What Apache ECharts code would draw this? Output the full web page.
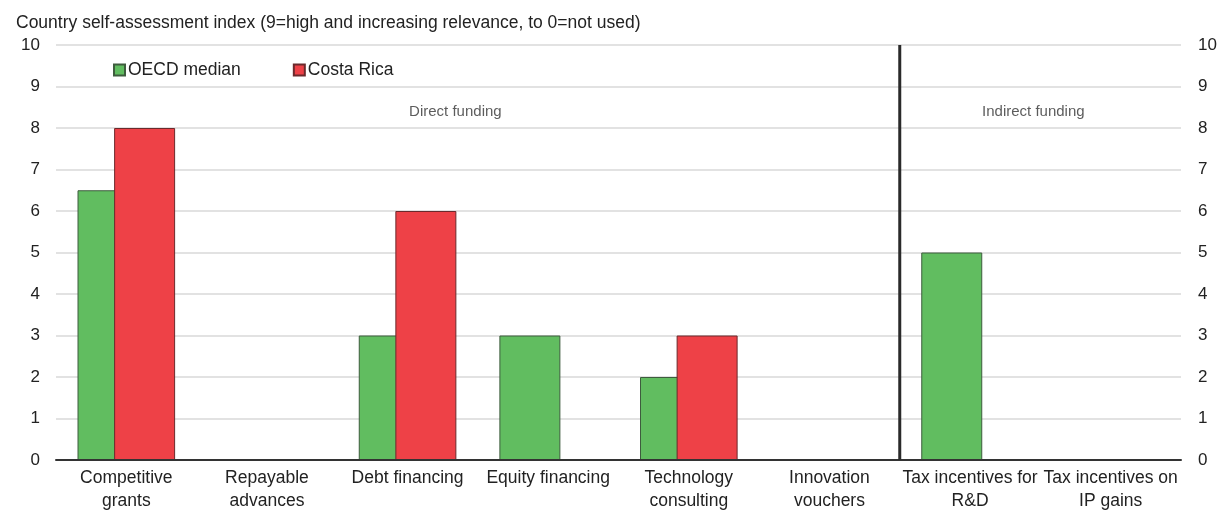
<!DOCTYPE html>
<html><head><meta charset="utf-8">
<script src="https://cdn.jsdelivr.net/npm/echarts@6/dist/echarts.min.js"></script>
<style>html,body{margin:0;padding:0;background:#fff}#c{width:1221px;height:513px}</style>
</head><body><div id="c"></div>
<script>
const categories = ["Competitive\ngrants","Repayable\nadvances","Debt financing","Equity financing","Technology\nconsulting","Innovation\nvouchers","Tax incentives for\nR&D","Tax incentives on\nIP gains"];
const oecdMedian = [6.5, 0, 3, 3, 2, 0, 5, 0];
const costaRica = [8, 0, 6, 0, 3, 0, 0, 0];
const yTicks = [0,1,2,3,4,5,6,7,8,9,10];
const dividerAt = 6;
const sectionLabels = [["Direct funding", 2.84, 8.4], ["Indirect funding", 6.95, 8.4]];
const FONT = '"Liberation Sans Narrow", "Arial Narrow", "Liberation Sans", Arial, sans-serif';

const chart = echarts.init(document.getElementById('c'), null, {renderer: 'canvas'});
chart.setOption({
  animation: false,
  textStyle: {fontFamily: FONT},
  title: {text: 'Country self-assessment index (9=high and increasing relevance, to 0=not used)', left: 11, top: 9,
    textStyle: {fontFamily: FONT, fontSize: 17.5, fontWeight: 'normal', color: '#222'}},
  legend: {left: 108, top: 56, itemWidth: 11, itemHeight: 11, itemGap: 52, icon: 'rect',
    textStyle: {fontFamily: FONT, fontSize: 17.5, color: '#222', padding: [0,0,0,-2]},
    data: ['OECD median', 'Costa Rica']},
  grid: {left: 56, right: 40, top: 45, bottom: 51},
  xAxis: [{
    type: 'category', data: categories, z: 3,
    axisLine: {lineStyle: {color: '#333', width: 2}},
    axisTick: {inside: true, length: 5, lineStyle: {color: '#333', width: 2}},
    axisLabel: {fontFamily: FONT, fontSize: 17.5, color: '#222', lineHeight: 23, margin: 7, interval: 0}
  }, {
    type: 'value', min: 0, max: 8, show: false
  }],
  yAxis: [{
    type: 'value', min: yTicks[0], max: yTicks[yTicks.length-1], interval: 1, position: 'left',
    axisLine: {show: false}, axisTick: {show: false},
    axisLabel: {fontFamily: FONT, fontSize: 17, color: '#222', margin: 16},
    splitLine: {lineStyle: {color: '#d9d9d9', width: 1.5}}
  }, {
    type: 'value', min: yTicks[0], max: yTicks[yTicks.length-1], interval: 1, position: 'right',
    axisLine: {show: false}, axisTick: {show: false},
    axisLabel: {fontFamily: FONT, fontSize: 17, color: '#222', margin: 17},
    splitLine: {show: false}
  }],
  series: [{
    name: 'OECD median', type: 'bar', data: oecdMedian, barWidth: 61, barGap: '-40%',
    itemStyle: {color: '#61bd60', borderColor: '#3e5c3e', borderWidth: 1}
  }, {
    name: 'Costa Rica', type: 'bar', data: costaRica, barWidth: 61,
    itemStyle: {color: '#ee4147', borderColor: '#6b2a2c', borderWidth: 1}
  }, {
    type: 'line', xAxisIndex: 1, yAxisIndex: 0, data: [[dividerAt, 0], [dividerAt, 10]],
    symbol: 'none', lineStyle: {color: '#2a2a2a', width: 3}, z: 5, silent: true
  }, {
    type: 'scatter', xAxisIndex: 1, yAxisIndex: 0, symbolSize: 0, silent: true,
    data: sectionLabels.map(s => ({value: [s[1], s[2]], name: s[0]})),
    label: {show: true, position: 'inside', formatter: p => p.name, fontFamily: FONT, fontSize: 15, color: '#333'}
  }]
});
</script></body></html>
